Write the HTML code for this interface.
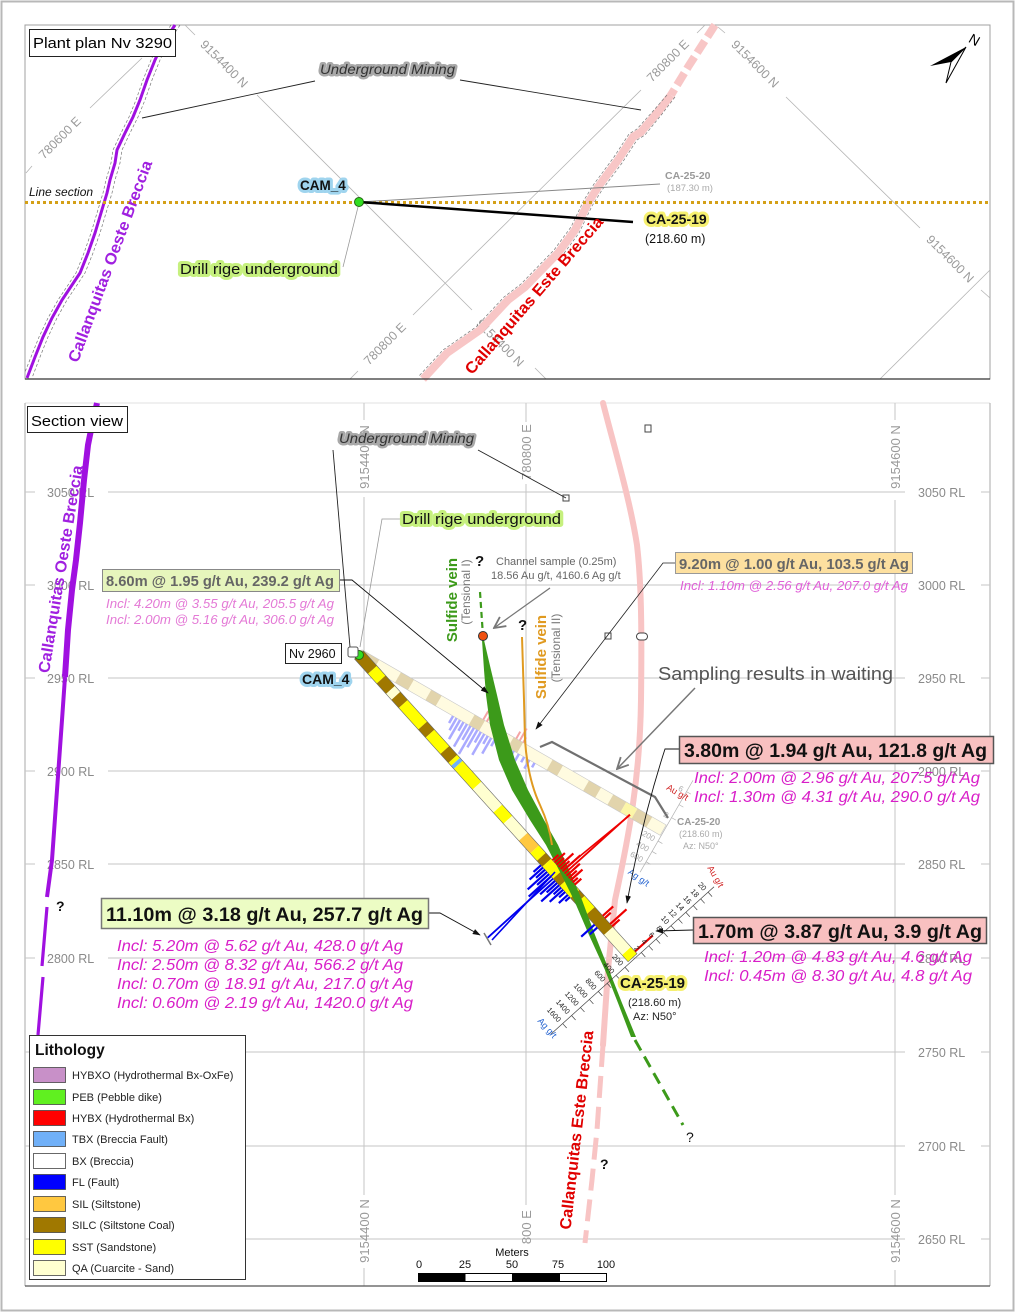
<!DOCTYPE html>
<html><head><meta charset="utf-8"><style>html,body{margin:0;padding:0;background:#fff;}svg{display:block;}</style></head>
<body>
<svg xmlns="http://www.w3.org/2000/svg" width="1016" height="1313" viewBox="0 0 1016 1313" font-family="'Liberation Sans', Arial, sans-serif">
<defs>
<marker id="ar" viewBox="0 0 10 10" refX="9" refY="5" markerWidth="8" markerHeight="8" markerUnits="userSpaceOnUse" orient="auto"><path d="M0,1.5 L10,5 L0,8.5 z" fill="#111"/></marker>
<marker id="ch" viewBox="0 0 10 10" refX="9" refY="5" markerWidth="14" markerHeight="14" markerUnits="userSpaceOnUse" orient="auto"><path d="M1,1 L9,5 L1,9" fill="none" stroke="#777" stroke-width="1.3"/></marker>
</defs>
<rect x="0" y="0" width="1016" height="1313" fill="#fff"/>
<rect x="1.5" y="1.5" width="1012" height="1309" fill="none" stroke="#b8b8b8" stroke-width="2"/>

<!-- ================= TOP PANEL ================= -->
<rect x="25" y="25" width="965" height="354" fill="#fff" stroke="#a0a0a0" stroke-width="1"/>
<g stroke="#b4b4b4" stroke-width="0.8" fill="none">
<path d="M26,173 L32,166 M90,108 L142,58"/>
<path d="M185,25 L195,35 M257,95 L472,310 M535,368 L546,379"/>
<path d="M413,315 L641,90 M350,379 L358,371 M697,33 L705,25"/>
<path d="M718,27 L725,33 M786,97 L920,228 M981,290 L990,298"/>
<path d="M990,270 L880,379"/>
</g>
<g fill="#9a9a9a" font-size="12.5" text-anchor="middle">
<text transform="translate(60,138) rotate(-45)" dy="4">780600 E</text>
<text transform="translate(224,64) rotate(45)" dy="4">9154400 N</text>
<text transform="translate(668,61) rotate(-45)" dy="4">780800 E</text>
<text transform="translate(755,64) rotate(45)" dy="4">9154600 N</text>
<text transform="translate(950,259) rotate(45)" dy="4">9154600 N</text>
<text transform="translate(385,344) rotate(-45)" dy="4">780800 E</text>
<text transform="translate(500,343) rotate(45)" dy="4">9154400 N</text>
</g>
<!-- purple oeste breccia (plan) -->
<polyline points="180,25 167,45 160,60 152,80 145,100 138,117 130,133 122,150 120,163 115,180 112,193 106,213 100,233 93,253 85,273 75,288 67,300 57,318 48,337 40,357 32,378" fill="none" stroke="#777" stroke-width="0.7" stroke-dasharray="3,2"/>
<polyline points="171,25 158,45 151,60 143,80 136,100 129,117 121,133 113,150 111,163 106,180 103,193 97,213 91,233 84,253 76,273 66,288 58,300 48,318 39,337 31,357 25,372" fill="none" stroke="#777" stroke-width="0.7" stroke-dasharray="3,2"/>
<polyline points="175,25 162,45 155,60 147,80 140,100 133,117 125,133 117,150 115,163 110,180 107,193 101,213 95,233 88,253 80,273 70,288 62,300 52,318 43,337 35,357 27,378" fill="none" stroke="#a010e0" stroke-width="3"/>
<!-- pink este breccia (plan) -->
<path d="M671,95 L658,112 L641,132 L633,137 L618,160 L598,187 L588,203 L575,230 L558,253 L525,287 L508,300 L480,330 L447,353 L423,379" fill="none" stroke="#f8c6c6" stroke-width="8"/>
<path d="M715,25 L688,67 L671,95" fill="none" stroke="#f8c6c6" stroke-width="8" stroke-dasharray="14,5"/>
<path d="M667,95 L654,110 L637,129 L629,134 L614,157 L594,184 L584,200 L571,227 L554,250 L521,284 L504,297 L476,327 L443,350 L419,376" fill="none" stroke="#777" stroke-width="0.7" stroke-dasharray="3,2"/>
<path d="M675,97 L662,114 L645,135 L637,140 L622,163 L602,190 L592,206 L579,233 L562,256" fill="none" stroke="#777" stroke-width="0.7" stroke-dasharray="3,2"/>
<!-- line section -->
<line x1="25" y1="202.5" x2="990" y2="202.5" stroke="#d4a017" stroke-width="3" stroke-dasharray="3,3"/>
<text x="29" y="196" font-size="12" font-style="italic" fill="#111">Line section</text>
<!-- drill traces plan -->
<line x1="360" y1="202" x2="660" y2="184" stroke="#888" stroke-width="1"/>
<line x1="359" y1="202" x2="633" y2="222" stroke="#000" stroke-width="2.5"/>
<circle cx="359" cy="202" r="4.5" fill="#33dd22" stroke="#226611" stroke-width="1"/>
<!-- leaders plan -->
<path d="M315,81 L142,118 M460,80 L641,110" stroke="#222" stroke-width="0.9" fill="none"/>
<path d="M343,267 L358,207" stroke="#999" stroke-width="0.8" fill="none"/>
<text x="320" y="74" font-size="14" font-style="italic" fill="#333" stroke="#a8a8a8" stroke-width="5" stroke-linejoin="round" paint-order="stroke" textLength="135" lengthAdjust="spacingAndGlyphs">Underground Mining</text>
<text x="300" y="190" font-size="13.5" font-weight="bold" fill="#111" stroke="#9fd4ee" stroke-width="6" stroke-linejoin="round" paint-order="stroke">CAM_4</text>
<text x="180" y="274" font-size="14.5" fill="#111" stroke="#c6f07e" stroke-width="6" stroke-linejoin="round" paint-order="stroke" textLength="158" lengthAdjust="spacingAndGlyphs">Drill rige underground</text>
<text x="665" y="179" font-size="10.5" font-weight="bold" fill="#9a9a9a">CA-25-20</text>
<text x="667" y="191" font-size="9.5" fill="#aaa">(187.30 m)</text>
<text x="646" y="224" font-size="14" font-weight="bold" fill="#111" stroke="#f6f070" stroke-width="6" stroke-linejoin="round" paint-order="stroke">CA-25-19</text>
<text x="645" y="243" font-size="12.5" fill="#111">(218.60 m)</text>
<text transform="translate(109.5,261) rotate(-69.6)" text-anchor="middle" dy="6" font-size="16" font-weight="bold" fill="#a020e0" textLength="214" lengthAdjust="spacingAndGlyphs">Callanquitas Oeste Breccia</text>
<text transform="translate(533.5,295) rotate(-49.2)" text-anchor="middle" dy="6" font-size="16" font-weight="bold" fill="#e00000" textLength="202" lengthAdjust="spacingAndGlyphs">Callanquitas Este Breccia</text>
<!-- north arrow -->
<polygon points="966,47 930,66 951,62" fill="#000"/>
<polygon points="966,47 951,62 946,83" fill="#fff" stroke="#000" stroke-width="1"/>
<text transform="translate(972,44) rotate(30)" text-anchor="middle" font-size="14" fill="#000">N</text>
<rect x="29.5" y="29.5" width="146" height="27" fill="#fff" stroke="#222" stroke-width="1"/>
<text x="33" y="48" font-size="14.5" fill="#000" textLength="139" lengthAdjust="spacingAndGlyphs">Plant plan Nv 3290</text>
<line x1="25" y1="379" x2="990" y2="379" stroke="#333" stroke-width="1.3"/>

<!-- ================= SECTION PANEL ================= -->
<line x1="25" y1="403" x2="990" y2="403" stroke="#e2e2e2" stroke-width="1"/>
<line x1="25" y1="403" x2="25" y2="1286" stroke="#a8a8a8" stroke-width="1"/>
<line x1="990" y1="403" x2="990" y2="1286" stroke="#a8a8a8" stroke-width="1"/>
<g stroke="#c6c6c6" stroke-width="1" fill="none">
<path d="M25,492 H35 M108,492 H905 M981,492 H990"/>
<path d="M25,585 H35 M108,585 H905 M981,585 H990"/>
<path d="M25,678 H35 M108,678 H905 M981,678 H990"/>
<path d="M25,771 H35 M108,771 H905 M981,771 H990"/>
<path d="M25,864 H35 M108,864 H905 M981,864 H990"/>
<path d="M25,958 H35 M108,958 H905 M981,958 H990"/>
<path d="M25,1052 H35 M108,1052 H905 M981,1052 H990"/>
<path d="M25,1146 H35 M108,1146 H905 M981,1146 H990"/>
<path d="M25,1239 H35 M108,1239 H905 M981,1239 H990"/>
<path d="M364,403 V420 M364,497 V1195 M364,1268 V1286"/>
<path d="M526,403 V422 M526,484 V1205"/>
<path d="M895,403 V420 M895,500 V1195 M895,1270 V1286"/>
</g>
<g fill="#8a8a8a" font-size="12.5">
<text x="47" y="497">3050 RL</text><text x="918" y="497">3050 RL</text>
<text x="47" y="590">3000 RL</text><text x="918" y="590">3000 RL</text>
<text x="47" y="683">2950 RL</text><text x="918" y="683">2950 RL</text>
<text x="47" y="776">2900 RL</text><text x="918" y="776">2900 RL</text>
<text x="47" y="869">2850 RL</text><text x="918" y="869">2850 RL</text>
<text x="47" y="963">2800 RL</text><text x="918" y="963">2800 RL</text>
<text x="47" y="1057">2750 RL</text><text x="918" y="1057">2750 RL</text>
<text x="47" y="1151">2700 RL</text><text x="918" y="1151">2700 RL</text>
<text x="47" y="1244">2650 RL</text><text x="918" y="1244">2650 RL</text>
</g>
<g fill="#9a9a9a" font-size="13" text-anchor="middle">
<text transform="translate(369,457) rotate(-90)">9154400 N</text>
<text transform="translate(531,452) rotate(-90)">780800 E</text>
<text transform="translate(900,457) rotate(-90)">9154600 N</text>
<text transform="translate(369,1231) rotate(-90)">9154400 N</text>
<text transform="translate(531,1238) rotate(-90)">780800 E</text>
<text transform="translate(900,1231) rotate(-90)">9154600 N</text>
</g>

<!-- purple oeste breccia (section) -->
<path d="M97,403 L92,425 L88,445 L84,480 L80,523 L76,560 L72,590 L68,630 L65,677" fill="none" stroke="#a010e0" stroke-width="6"/>
<path d="M65,677 L62,720 L57,790 L52,860 L47,897" fill="none" stroke="#a010e0" stroke-width="4"/>
<path d="M47,907 L42,966 M43,977 L38,1035" fill="none" stroke="#a010e0" stroke-width="3.2"/>
<text transform="translate(60,569) rotate(-80.7)" text-anchor="middle" dy="6" font-size="16" font-weight="bold" fill="#a020e0" textLength="210" lengthAdjust="spacingAndGlyphs">Callanquitas Oeste Breccia</text>
<text x="56" y="911" font-size="14" font-weight="bold" fill="#111">?</text>

<!-- pink este breccia (section) -->
<path d="M603,403 C615,450 630,500 637,545 C641,580 642,620 641,700 C640,780 628,840 615,900 L608,970 L603,1045" fill="none" stroke="#f8c4c4" stroke-width="6" stroke-linecap="round"/>
<path d="M603,1045 L597,1130 L592,1180 L585,1243" fill="none" stroke="#f8c4c4" stroke-width="5" stroke-dasharray="22,9"/>
<text transform="translate(576,1130) rotate(-83.4)" text-anchor="middle" dy="6" font-size="16" font-weight="bold" fill="#e00000" textLength="200" lengthAdjust="spacingAndGlyphs">Callanquitas Este Breccia</text>
<text x="600" y="1169" font-size="14" font-weight="bold" fill="#111">?</text>

<!-- small symbols -->
<rect x="645" y="425" width="6" height="7" fill="#fff" stroke="#444" stroke-width="1"/>
<rect x="563" y="495" width="6" height="6" fill="#fff" stroke="#444" stroke-width="1"/>
<rect x="605" y="633" width="6" height="6" fill="#fff" stroke="#444" stroke-width="1"/>
<rect x="636.5" y="633" width="11" height="7" rx="3.5" fill="#fff" stroke="#444" stroke-width="1"/>

<!-- leaders (section) -->
<path d="M333,450 L350,647" stroke="#222" stroke-width="0.9" fill="none"/>
<path d="M478,450 L566,498" stroke="#222" stroke-width="0.9" fill="none"/>
<path d="M400,519 L382,519 L360,647" stroke="#999" stroke-width="0.8" fill="none"/>

<!-- CA-25-20 trace (faded) -->
<g transform="translate(359,655) rotate(29.93)">
<rect x="0" y="-6" width="20" height="12" fill="#e2d4ac"/>
<rect x="20" y="-6" width="25" height="12" fill="#fffbe0"/>
<rect x="45" y="-6" width="15" height="12" fill="#e2d4ac"/>
<rect x="60" y="-6" width="20" height="12" fill="#fffbe0"/>
<rect x="80" y="-6" width="12" height="12" fill="#e2d4ac"/>
<rect x="92" y="-6" width="38" height="12" fill="#fffbe0"/>
<rect x="130" y="-6" width="12" height="12" fill="#e2d4ac"/>
<rect x="142" y="-6" width="33" height="12" fill="#fffbe0"/>
<rect x="175" y="-6" width="11" height="12" fill="#e2d4ac"/>
<rect x="186" y="-6" width="34" height="12" fill="#fffbe0"/>
<rect x="220" y="-6" width="12" height="12" fill="#e2d4ac"/>
<rect x="232" y="-6" width="30" height="12" fill="#fffbe0"/>
<rect x="262" y="-6" width="14" height="12" fill="#e2d4ac"/>
<rect x="276" y="-6" width="14" height="12" fill="#fffbe0"/>
<rect x="290" y="-6" width="15" height="12" fill="#e2d4ac"/>
<rect x="305" y="-6" width="13" height="12" fill="#fcf6a8"/>
<rect x="318" y="-6" width="17" height="12" fill="#e2d4ac"/>
<rect x="335" y="-6" width="16" height="12" fill="#fffbe0"/>
<rect x="0" y="-6" width="351" height="12" fill="none" stroke="#c8c8c8" stroke-width="0.6"/>
<path d="M112,6 v8 M116,6 v14 M120,6 v22 M124,6 v10 M128,6 v26 M132,6 v16 M136,6 v30 M140,6 v20 M144,6 v12 M148,6 v24 M152,6 v9 M156,6 v18 M160,6 v7 M170,6 v10 M176,6 v14 M182,6 v8 M188,6 v12 M194,6 v6 M200,6 v10 M206,6 v5" stroke="#aaaaff" stroke-width="2.5"/>
<path d="M140,-6 v-10 M144,-6 v-22 M148,-6 v-14 M178,-6 v-8 M182,-6 v-14 M186,-6 v-6" stroke="#f4a4a4" stroke-width="2"/>
<g stroke="#b0b0b0" stroke-width="0.7" fill="none">
<path d="M352,-58 V48 M352,-15 h5 M352,-30 h5 M352,-45 h5 M352,12 h5 M352,24 h5 M352,36 h5"/>
</g>
<g font-size="8" fill="#aaa" text-anchor="end">
<text x="348" y="-12">2</text><text x="348" y="-42">6</text>
<text x="348" y="15">200</text><text x="348" y="27">400</text><text x="348" y="39">600</text>
</g>
</g>
<text transform="translate(676,795) rotate(30)" font-size="9" fill="#d02020" text-anchor="middle">Au g/t</text>
<text transform="translate(637,880) rotate(35)" font-size="9" fill="#2060d0" text-anchor="middle">Ag g/t</text>
<text x="677" y="825" font-size="10" font-weight="bold" fill="#9a9a9a">CA-25-20</text>
<text x="679" y="837" font-size="9" fill="#aaa">(218.60 m)</text>
<text x="683" y="849" font-size="9" fill="#aaa">Az: N50°</text>

<!-- CA-25-19 trace -->
<g transform="translate(359,655) rotate(47.9)">
<rect x="0" y="-6" width="20" height="12" fill="#a07800"/>
<rect x="20" y="-6" width="13" height="12" fill="#ffff00"/>
<rect x="33" y="-6" width="14" height="12" fill="#a07800"/>
<rect x="47" y="-6" width="8" height="12" fill="#ffffd0"/>
<rect x="55" y="-6" width="11" height="12" fill="#a07800"/>
<rect x="66" y="-6" width="29" height="12" fill="#ffff00"/>
<rect x="95" y="-6" width="11" height="12" fill="#a07800"/>
<rect x="106" y="-6" width="22" height="12" fill="#ffff00"/>
<rect x="128" y="-6" width="12" height="12" fill="#a07800"/>
<rect x="140" y="-6" width="4" height="12" fill="#ffff00"/>
<rect x="144" y="-6" width="4" height="12" fill="#70b0f8"/>
<rect x="148" y="-6" width="28" height="12" fill="#ffff00"/>
<rect x="176" y="-6" width="31" height="12" fill="#ffffd0"/>
<rect x="207" y="-6" width="15" height="12" fill="#ffff00"/>
<rect x="222" y="-6" width="23" height="12" fill="#ffffd0"/>
<rect x="245" y="-6" width="17" height="12" fill="#ffc840"/>
<rect x="262" y="-6" width="10" height="12" fill="#ffff00"/>
<rect x="272" y="-6" width="8" height="12" fill="#a07800"/>
<rect x="280" y="-6" width="16" height="12" fill="#ffff00"/>
<rect x="296" y="-6" width="10" height="12" fill="#a07800"/>
<rect x="306" y="-6" width="16" height="12" fill="#ffff00"/>
<rect x="322" y="-6" width="8" height="12" fill="#a07800"/>
<rect x="330" y="-6" width="15" height="12" fill="#ffff00"/>
<rect x="345" y="-6" width="27" height="12" fill="#a07800"/>
<rect x="372" y="-6" width="27" height="12" fill="#ffffd0"/>
<rect x="399" y="-6" width="9" height="12" fill="#ffff00"/>
<rect x="0" y="-6" width="408" height="12" fill="none" stroke="#666" stroke-width="0.6"/>
</g>

<!-- veins -->
<path d="M480,592 L483,636" stroke="#3c9a1a" stroke-width="2.2" stroke-dasharray="6,4" fill="none"/>
<polygon points="482,640 484,670 486,695 490,725 499,760 512,790 530,820 546,845 560,872 574,900 589,935 605,970 618,1003 631,1037 636,1037 622,1003 609,970 595,935 582,900 570,872 558,845 544,820 528,790 515,760 504,725 497,695 491,670 484,640" fill="#3c9a1a"/>
<path d="M635,1040 L683,1125" stroke="#3c9a1a" stroke-width="3" stroke-dasharray="12,7" fill="none"/>
<path d="M522,637 L524,700 L525,740 C527,770 533,790 540,805 C546,818 550,830 552,845" stroke="#e09a20" stroke-width="2" fill="none"/>
<circle cx="483" cy="636" r="4.5" fill="#f05010" stroke="#333" stroke-width="1"/>
<text x="475" y="566" font-size="15" font-weight="bold" fill="#111">?</text>
<text x="518" y="630" font-size="15" font-weight="bold" fill="#111">?</text>
<text x="686" y="1142" font-size="14" fill="#111">?</text>
<text transform="translate(457,600) rotate(-90)" text-anchor="middle" font-size="15" font-weight="bold" fill="#3c9a1a">Sulfide vein</text>
<text transform="translate(470,592) rotate(-90)" text-anchor="middle" font-size="12" fill="#777">(Tensional I)</text>
<text transform="translate(546,657) rotate(-90)" text-anchor="middle" font-size="15" font-weight="bold" fill="#e09a20">Sulfide vein</text>
<text transform="translate(560,648) rotate(-90)" text-anchor="middle" font-size="12" fill="#777">(Tensional II)</text>

<!-- histograms CA-25-19 -->
<g transform="translate(359,655) rotate(47.9)">
<path d="M282,-6 v-8 M285,-6 v-14 M288,-6 v-10 M291,-6 v-20 M294,-6 v-12 M297,-6 v-24 M303,-6 v-18 M306,-6 v-11 M309,-6 v-16 M312,-6 v-7 M315,-6 v-9 M357,-6 v-14 M360,-6 v-8 M368,-6 v-22 M371,-6 v-10 M405,-6 v-24" stroke="#ee0000" stroke-width="2.2"/>
<path d="M300,-6 v-88" stroke="#ee0000" stroke-width="1.8"/>
<path d="M278,6 v10 M281,6 v18 M284,6 v12 M287,6 v26 M290,6 v16 M293,6 v30 M299,6 v20 M302,6 v14 M305,6 v24 M308,6 v10 M311,6 v18 M314,6 v8 M318,6 v12 M321,6 v6 M358,6 v18 M362,6 v10" stroke="#0000ee" stroke-width="2.2"/>
<path d="M296,6 v88" stroke="#0000ee" stroke-width="1.8"/>
<g stroke="#444" stroke-width="0.7" fill="none">
<path d="M410,-108 V112"/>
<path d="M410,-10 h6 M410,-20 h6 M410,-30 h6 M410,-40 h6 M410,-50 h6 M410,-60 h6 M410,-70 h6 M410,-80 h6 M410,-90 h6 M410,-100 h6"/>
<path d="M410,12 h6 M410,24 h6 M410,36 h6 M410,48 h6 M410,60 h6 M410,72 h6 M410,84 h6 M410,96 h6"/>
</g>
<g font-size="7.5" fill="#222" text-anchor="end">
<text x="406" y="-7">2</text><text x="406" y="-17">4</text><text x="406" y="-27">6</text><text x="406" y="-37">8</text><text x="406" y="-47">10</text><text x="406" y="-57">12</text><text x="406" y="-67">14</text><text x="406" y="-77">16</text><text x="406" y="-87">18</text><text x="406" y="-97">20</text>
<text x="406" y="15">200</text><text x="406" y="27">400</text><text x="406" y="39">600</text><text x="406" y="51">800</text><text x="406" y="63">1000</text><text x="406" y="75">1200</text><text x="406" y="87">1400</text><text x="406" y="99">1600</text>
</g>
</g>
<line x1="563" y1="870" x2="630" y2="815" stroke="#ee0000" stroke-width="1.6"/>
<line x1="555" y1="872" x2="492" y2="940" stroke="#0000ee" stroke-width="1.6"/>
<text transform="translate(713,878) rotate(60)" font-size="9" fill="#d02020" text-anchor="middle">Au g/t</text>
<text transform="translate(545,1030) rotate(48)" font-size="9" fill="#2060d0" text-anchor="middle">Ag g/t</text>
<circle cx="359" cy="655" r="4.5" fill="#33dd22" stroke="#226611" stroke-width="1"/>
<rect x="348" y="647" width="10" height="10" rx="2" fill="#fff" stroke="#555" stroke-width="1"/>

<!-- labels section -->
<text x="339" y="443" font-size="14" font-style="italic" fill="#333" stroke="#a8a8a8" stroke-width="5" stroke-linejoin="round" paint-order="stroke" textLength="135" lengthAdjust="spacingAndGlyphs">Underground Mining</text>
<text x="402" y="524" font-size="14.5" fill="#111" stroke="#c6f07e" stroke-width="6" stroke-linejoin="round" paint-order="stroke" textLength="159" lengthAdjust="spacingAndGlyphs">Drill rige underground</text>
<rect x="285.5" y="643.5" width="56" height="20" fill="#fff" stroke="#222" stroke-width="1"/>
<text x="289" y="658" font-size="12.5" fill="#111">Nv 2960</text>
<text x="302" y="684" font-size="14" font-weight="bold" fill="#111" stroke="#9fd4ee" stroke-width="6" stroke-linejoin="round" paint-order="stroke">CAM_4</text>
<rect x="27.5" y="406.5" width="100" height="26" fill="#fff" stroke="#222" stroke-width="1"/>
<text x="31" y="426" font-size="15" fill="#000" textLength="92" lengthAdjust="spacingAndGlyphs">Section view</text>
<text x="496" y="565" font-size="11" fill="#666">Channel sample (0.25m)</text>
<text x="491" y="579" font-size="11" fill="#666">18.56 Au g/t, 4160.6 Ag g/t</text>
<line x1="550" y1="588" x2="494" y2="628" stroke="#777" stroke-width="1.3" marker-end="url(#ch)"/>
<text x="658" y="680" font-size="18" fill="#555" textLength="235" lengthAdjust="spacingAndGlyphs">Sampling results in waiting</text>
<line x1="695" y1="688" x2="617" y2="769" stroke="#777" stroke-width="1.5" marker-end="url(#ch)"/>
<polyline points="540,747 552,742 655,797 668,818" fill="none" stroke="#707070" stroke-width="2.2"/>

<!-- CA-25-19 label -->
<text x="620" y="988" font-size="15" font-weight="bold" fill="#111" stroke="#f6f070" stroke-width="6" stroke-linejoin="round" paint-order="stroke">CA-25-19</text>
<text x="628" y="1006" font-size="11" fill="#222">(218.60 m)</text>
<text x="633" y="1020" font-size="11" fill="#222">Az: N50°</text>

<!-- result boxes -->
<path d="M339,580 L352,580 L488,693" fill="none" stroke="#111" stroke-width="0.9" marker-end="url(#ar)"/>
<rect x="102.5" y="569.5" width="237" height="22" fill="#e6f5bc" stroke="#888" stroke-width="1"/>
<text x="106" y="586" font-size="15" font-weight="bold" fill="#666" textLength="228" lengthAdjust="spacingAndGlyphs">8.60m @ 1.95 g/t Au, 239.2 g/t Ag</text>
<text x="106" y="608" font-size="13" font-style="italic" fill="#e47ad6" textLength="228" lengthAdjust="spacingAndGlyphs">Incl: 4.20m @ 3.55 g/t Au, 205.5 g/t Ag</text>
<text x="106" y="624" font-size="13" font-style="italic" fill="#e47ad6" textLength="228" lengthAdjust="spacingAndGlyphs">Incl: 2.00m @ 5.16 g/t Au, 306.0 g/t Ag</text>

<path d="M675,563 L663,563 L536,729" fill="none" stroke="#222" stroke-width="0.8" marker-end="url(#ar)"/>
<rect x="675.5" y="552.5" width="237" height="21" fill="#fde0a0" stroke="#999" stroke-width="1"/>
<text x="679" y="569" font-size="15" font-weight="bold" fill="#666" textLength="230" lengthAdjust="spacingAndGlyphs">9.20m @ 1.00 g/t Au, 103.5 g/t Ag</text>
<text x="680" y="590" font-size="13" font-style="italic" fill="#e060d8" textLength="228" lengthAdjust="spacingAndGlyphs">Incl: 1.10m @ 2.56 g/t Au, 207.0 g/t Ag</text>

<path d="M679,749 L665,749 Q642,820 627,903" fill="none" stroke="#111" stroke-width="0.9" marker-end="url(#ar)"/>
<rect x="679.5" y="736.5" width="314" height="27" fill="#f8c0c0" stroke="#555" stroke-width="1.5"/>
<text x="684" y="757" font-size="19" font-weight="bold" fill="#111" textLength="303" lengthAdjust="spacingAndGlyphs">3.80m @ 1.94 g/t Au, 121.8 g/t Ag</text>
<text x="694" y="783" font-size="15.5" font-style="italic" fill="#d81ec8" textLength="286" lengthAdjust="spacingAndGlyphs">Incl: 2.00m @ 2.96 g/t Au, 207.5 g/t Ag</text>
<text x="694" y="802" font-size="15.5" font-style="italic" fill="#d81ec8" textLength="286" lengthAdjust="spacingAndGlyphs">Incl: 1.30m @ 4.31 g/t Au, 290.0 g/t Ag</text>

<path d="M693,930 L656,931" fill="none" stroke="#111" stroke-width="0.9" marker-end="url(#ar)"/>
<rect x="693.5" y="917.5" width="293" height="26" fill="#f8c0c0" stroke="#555" stroke-width="1.5"/>
<text x="698" y="938" font-size="19" font-weight="bold" fill="#111" textLength="284" lengthAdjust="spacingAndGlyphs">1.70m @ 3.87 g/t Au, 3.9 g/t Ag</text>
<text x="704" y="962" font-size="15.5" font-style="italic" fill="#d81ec8" textLength="268" lengthAdjust="spacingAndGlyphs">Incl: 1.20m @ 4.83 g/t Au, 4.6 g/t Ag</text>
<text x="704" y="981" font-size="15.5" font-style="italic" fill="#d81ec8" textLength="268" lengthAdjust="spacingAndGlyphs">Incl: 0.45m @ 8.30 g/t Au, 4.8 g/t Ag</text>

<path d="M428,913 L440,913 L480,935" fill="none" stroke="#111" stroke-width="0.9" marker-end="url(#ar)"/>
<path d="M484,933 L491,945" stroke="#777" stroke-width="1.5"/>
<rect x="101.5" y="898.5" width="327" height="30" fill="#ecfcc4" stroke="#777" stroke-width="1.5"/>
<text x="106" y="921" font-size="19" font-weight="bold" fill="#111" textLength="317" lengthAdjust="spacingAndGlyphs">11.10m @ 3.18 g/t Au, 257.7 g/t Ag</text>
<text x="117" y="951" font-size="15.5" font-style="italic" fill="#d81ec8" textLength="286" lengthAdjust="spacingAndGlyphs">Incl: 5.20m @ 5.62 g/t Au, 428.0 g/t Ag</text>
<text x="117" y="970" font-size="15.5" font-style="italic" fill="#d81ec8" textLength="286" lengthAdjust="spacingAndGlyphs">Incl: 2.50m @ 8.32 g/t Au, 566.2 g/t Ag</text>
<text x="117" y="989" font-size="15.5" font-style="italic" fill="#d81ec8" textLength="296" lengthAdjust="spacingAndGlyphs">Incl: 0.70m @ 18.91 g/t Au, 217.0 g/t Ag</text>
<text x="117" y="1008" font-size="15.5" font-style="italic" fill="#d81ec8" textLength="296" lengthAdjust="spacingAndGlyphs">Incl: 0.60m @ 2.19 g/t Au, 1420.0 g/t Ag</text>

<!-- Lithology legend -->
<rect x="29.5" y="1035.5" width="216" height="244" fill="#fff" stroke="#333" stroke-width="1"/>
<text x="35" y="1055" font-size="15.5" font-weight="bold" fill="#111">Lithology</text>
<g stroke="#444" stroke-width="0.8">
<rect x="33.5" y="1067.5" width="32" height="15" fill="#c890c8"/>
<rect x="33.5" y="1089.5" width="32" height="15" fill="#60f020"/>
<rect x="33.5" y="1110.5" width="32" height="15" fill="#ff0000"/>
<rect x="33.5" y="1131.5" width="32" height="15" fill="#70b0f8"/>
<rect x="33.5" y="1153.5" width="32" height="15" fill="#ffffff"/>
<rect x="33.5" y="1174.5" width="32" height="15" fill="#0000ff"/>
<rect x="33.5" y="1196.5" width="32" height="15" fill="#ffc840"/>
<rect x="33.5" y="1217.5" width="32" height="15" fill="#a07800"/>
<rect x="33.5" y="1239.5" width="32" height="15" fill="#ffff00"/>
<rect x="33.5" y="1260.5" width="32" height="15" fill="#ffffd0"/>
</g>
<g font-size="11" fill="#222">
<text x="72" y="1079">HYBXO (Hydrothermal Bx-OxFe)</text>
<text x="72" y="1101">PEB (Pebble dike)</text>
<text x="72" y="1122">HYBX (Hydrothermal Bx)</text>
<text x="72" y="1143">TBX (Breccia Fault)</text>
<text x="72" y="1165">BX (Breccia)</text>
<text x="72" y="1186">FL (Fault)</text>
<text x="72" y="1208">SIL (Siltstone)</text>
<text x="72" y="1229">SILC (Siltstone Coal)</text>
<text x="72" y="1251">SST (Sandstone)</text>
<text x="72" y="1272">QA (Cuarcite - Sand)</text>
</g>

<!-- scale bar -->
<rect x="412" y="1244" width="205" height="41" fill="#fff"/>
<text x="512" y="1256" font-size="11" fill="#111" text-anchor="middle">Meters</text>
<g font-size="11" fill="#111" text-anchor="middle">
<text x="419" y="1268">0</text><text x="465" y="1268">25</text><text x="512" y="1268">50</text><text x="558" y="1268">75</text><text x="606" y="1268">100</text>
</g>
<rect x="418.5" y="1273.5" width="188" height="8" fill="#fff" stroke="#000" stroke-width="1"/>
<rect x="418.5" y="1273.5" width="47" height="8" fill="#000"/>
<rect x="512" y="1273.5" width="48" height="8" fill="#000"/>
<rect x="466" y="1275.5" width="46" height="4" fill="#fff"/>
<rect x="560" y="1275.5" width="46" height="4" fill="#fff"/>
<line x1="25" y1="1286" x2="990" y2="1286" stroke="#555" stroke-width="1.3"/>
</svg>
</body></html>
